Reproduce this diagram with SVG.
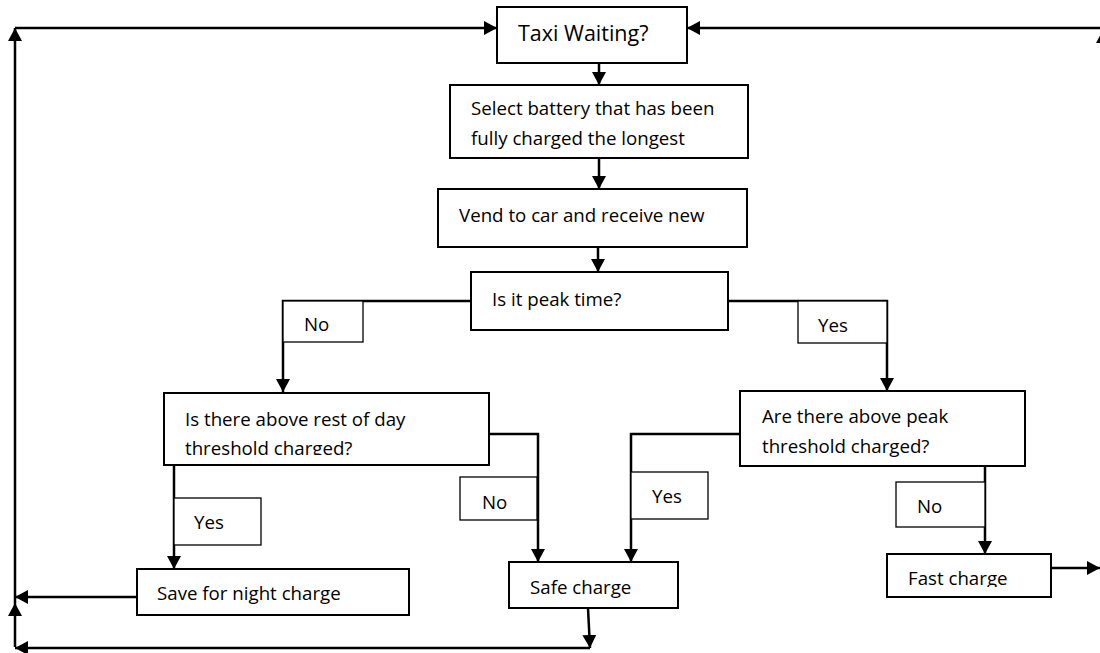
<svg xmlns="http://www.w3.org/2000/svg" width="1100" height="653" viewBox="0 0 1100 653">
<style>
.node rect{fill:#fff;stroke:#000;stroke-width:2}
.lbl rect{fill:#fff;stroke:#000;stroke-width:1.3}
text{font-family:"Open Sans","Liberation Sans",sans-serif;font-size:18.7px;fill:#000}
.big{font-size:21.5px}
.conn path{fill:none;stroke:#000;stroke-width:2.5}
</style>
<defs>
<marker id="ah" markerUnits="userSpaceOnUse" markerWidth="13" markerHeight="14" refX="13" refY="7" orient="auto">
<path d="M0,0 L13,7 L0,14 z" fill="#000"/>
</marker>
<clipPath id="clipRest"><rect x="165" y="394" width="323" height="61"/></clipPath>
<clipPath id="clipFast"><rect x="888" y="555" width="162" height="32"/></clipPath>
</defs>
<rect width="1100" height="653" fill="#fff"/>
<g class="conn">
<path d="M15,647 V603" marker-end="url(#ah)"/>
<path d="M15,603 V28" marker-end="url(#ah)"/>
<path d="M15,28 H497" marker-end="url(#ah)"/>
<path d="M1100,28 H687" marker-end="url(#ah)"/>
<path d="M599,63 V85" marker-end="url(#ah)"/>
<path d="M599,158 V189" marker-end="url(#ah)"/>
<path d="M598,247 V272" marker-end="url(#ah)"/>
<path d="M471,301 H283 V392" marker-end="url(#ah)"/>
<path d="M728,301 H887 V391" marker-end="url(#ah)"/>
<path d="M489,434 H538 V562" marker-end="url(#ah)"/>
<path d="M174,465 V569" marker-end="url(#ah)"/>
<path d="M740,434 H631 V562" marker-end="url(#ah)"/>
<path d="M985,466 V554" marker-end="url(#ah)"/>
<path d="M1051,568 H1100" marker-end="url(#ah)"/>
<path d="M137,597 H15" marker-end="url(#ah)"/>
<path d="M588,608 L590,648" marker-end="url(#ah)"/>
<path d="M590,648 H15" marker-end="url(#ah)"/>
<polygon points="1103,30 1096,43 1110,43" fill="#000" stroke="none"/>
</g>
<g id="taxi" class="node"><rect x="497" y="7" width="190" height="56"/><text class="big" x="518" y="41">Taxi Waiting?</text></g>
<g id="select" class="node"><rect x="450" y="85" width="298" height="73"/><text x="471" y="115">Select battery that has been</text><text x="471" y="145">fully charged the longest</text></g>
<g id="vend" class="node"><rect x="438" y="189" width="309" height="58"/><text x="459" y="222">Vend to car and receive new</text></g>
<g id="peak" class="node"><rect x="471" y="272" width="257" height="58"/><text x="492" y="306">Is it peak time?</text></g>
<g id="restday" class="node"><rect x="164" y="393" width="325" height="72"/><g clip-path="url(#clipRest)"><text x="185" y="426">Is there above rest of day</text><text x="185" y="455">threshold charged?</text></g></g>
<g id="peakthr" class="node"><rect x="740" y="391" width="285" height="75"/><text x="762" y="423">Are there above peak</text><text x="762" y="453">threshold charged?</text></g>
<g id="save" class="node"><rect x="137" y="569" width="272" height="46"/><text x="157" y="600">Save for night charge</text></g>
<g id="safe" class="node"><rect x="509" y="562" width="169" height="46"/><text x="530" y="594">Safe charge</text></g>
<g id="fast" class="node"><rect x="887" y="554" width="164" height="43"/><g clip-path="url(#clipFast)"><text x="908" y="585">Fast charge</text></g></g>
<g id="lbl-no1" class="lbl"><rect x="283" y="301" width="80" height="41"/><text x="304" y="331">No</text></g>
<g id="lbl-yes1" class="lbl"><rect x="798" y="301" width="89" height="42"/><text x="818" y="332">Yes</text></g>
<g id="lbl-no2" class="lbl"><rect x="460" y="477" width="77" height="43"/><text x="482" y="509">No</text></g>
<g id="lbl-yes2" class="lbl"><rect x="631" y="472" width="77" height="47"/><text x="652" y="503">Yes</text></g>
<g id="lbl-no3" class="lbl"><rect x="896" y="482" width="89" height="45"/><text x="917" y="513">No</text></g>
<g id="lbl-yes3" class="lbl"><rect x="174" y="498" width="87" height="47"/><text x="194" y="529">Yes</text></g>
</svg>
